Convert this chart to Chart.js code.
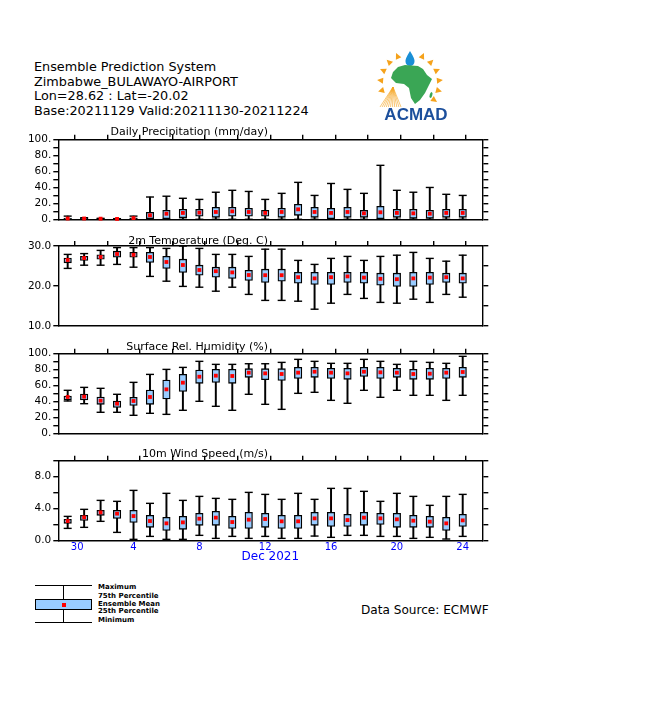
<!DOCTYPE html>
<html><head><meta charset="utf-8">
<script src="https://cdn.jsdelivr.net/npm/chart.js@4.4.1/dist/chart.umd.min.js"></script>
<style>
html,body{margin:0;padding:0;background:#fff;}
body{width:651px;height:716px;position:relative;overflow:hidden;font-family:"DejaVu Sans",sans-serif;color:#000;}
.abs{position:absolute;}
canvas.panel{position:absolute;left:0;}
.hdr{position:absolute;left:34px;top:60px;font-size:12.8px;line-height:14.5px;white-space:nowrap;}
.lgt{position:absolute;left:98px;font-size:7px;font-weight:bold;line-height:8px;white-space:nowrap;}
.ln{position:absolute;background:#000;}
</style></head>
<body>
<div class="hdr">Ensemble Prediction System<br>Zimbabwe_BULAWAYO-AIRPORT<br>Lon=28.62 : Lat=-20.02<br>Base:20211129 Valid:20211130-20211224</div>
<canvas id="logo" class="abs" style="left:365px;top:40px" width="100" height="90"></canvas>

<canvas id="c1" class="panel" style="top:120px" width="651" height="110"></canvas>
<canvas id="c2" class="panel" style="top:230px" width="651" height="106"></canvas>
<canvas id="c3" class="panel" style="top:336px" width="651" height="108"></canvas>
<canvas id="c4" class="panel" style="top:444px" width="651" height="126"></canvas>

<!-- legend -->
<div class="ln" style="left:35px;top:584.6px;width:57px;height:1.4px"></div>
<div class="ln" style="left:62.8px;top:585px;width:1.4px;height:15px"></div>
<div class="abs" style="left:35px;top:599.3px;width:57px;height:10.5px;box-sizing:border-box;border:1.4px solid #000;background:#99ccff"></div>
<div class="abs" style="left:61.5px;top:602.5px;width:4px;height:4px;background:#ff0000"></div>
<div class="ln" style="left:62.8px;top:609.5px;width:1.4px;height:13px"></div>
<div class="ln" style="left:35px;top:621.8px;width:57px;height:1.4px"></div>
<div class="lgt" style="top:583.3px">Maximum</div>
<div class="lgt" style="top:592.3px">75th Percentile</div>
<div class="lgt" style="top:599.7px">Ensemble Mean</div>
<div class="lgt" style="top:606.7px">25th Percentile</div>
<div class="lgt" style="top:616.3px">Minimum</div>
<div class="abs" style="left:361px;top:603.3px;font-size:12.1px;line-height:14px;white-space:nowrap">Data Source: ECMWF</div>

<script>
// ---------- DATA ----------
const days = [30,1,2,3,4,5,6,7,8,9,10,11,12,13,14,15,16,17,18,19,20,21,22,23,24];
const xTickDays = [30,4,8,12,16,20,24];
const monthLabel = 'Dec 2021';

const precipMax  = [4,2,1.2,0.8,4,28,29,26.4,25,34,36.4,35,25,32.6,46.4,30,45,37.6,32.6,67.8,36.4,34,40,31.4,30];
const precipQ75  = [1.5,1.5,1,0.8,1.7,8.8,11.3,12.5,12.5,15,15,13.8,11.3,13.8,18.8,15,13.8,15,11.3,16.3,12.5,12.5,11.3,12.5,12.5];
const precipQ25  = [0,0,0,0,0,0,0.8,2,3.8,2.5,3.8,3.8,3.8,2.5,5,2.5,0.8,2.5,2.5,0.8,2.5,1.2,1.2,2.5,2.5];
const precipMin  = [0,0,0,0,0,0,0,0,0,0,0,0,0,0,0,0,0,0,0,0,0,0,0,0,0];
const precipMean = [1,1,0.8,0.5,1.5,5,7,8,8.4,9.2,10,9.2,8,9.2,12.5,9.2,8,9.2,7.5,8.8,8,7.5,7,8,8];

const tempMax  = [27.9,28.1,28.9,29.6,29.6,29.6,29.4,30,29.4,27.9,27.9,27.4,29.2,29.2,26.4,25.4,26.9,27.4,26.4,27.4,27.7,28.4,26.9,26.2,27.7];
const tempQ75  = [27,27.4,27.8,28.7,28.4,28.4,27.4,26.7,25.2,24.7,24.7,23.9,24.2,24.2,23.4,23.4,23.4,23.4,23.4,23.2,23.2,23.4,23.4,23.2,23.2];
const tempQ25  = [25.8,26.4,26.7,27.2,27.2,25.9,24.4,23.4,22.7,22.2,21.9,21.4,20.9,21.2,20.7,20.4,20.4,20.9,20.7,20.2,19.9,19.9,20.4,20.9,20.7];
const tempMin  = [24.4,25.2,25.2,25.4,24.7,22.4,21.2,19.9,19.7,18.7,19.7,17.9,16.4,16.4,16.2,14.2,15.7,17.9,16.9,15.9,15.7,16.7,15.9,17.9,17.2];
const tempMean = [26.5,27,27.25,28,27.8,27.25,26,25.25,24,23.7,23.4,22.75,22.7,22.7,22.2,21.9,22.2,22.4,22.1,21.8,21.7,21.9,22.1,22.2,21.9];

const rhMax  = [54,57.7,56.5,49,64,74,80.3,82.8,90.4,86.6,86.6,87.4,87.4,89.1,92.9,90.4,87.9,87.9,92.9,90.4,86.6,90.4,89.1,87.9,96.7];
const rhQ75  = [46.9,49.4,45.6,40.6,45.2,54.4,67,74,79.5,80.3,80.3,81.2,81.2,81.2,82.8,82.8,81.6,81.6,82.8,82.8,81.6,80.3,81.6,81.6,82.8];
const rhQ25  = [41.8,41.8,36.4,32.6,35.1,36.4,43.1,52.7,62.8,64,62.8,70.3,67.4,66.5,69,70.3,69,67.8,71.5,69,70.3,67.8,67.8,69,70.3];
const rhMin  = [40.6,37.2,26.4,26.4,22.6,25.1,23.8,28.9,40.2,33.9,28.9,49,36.4,30.1,50.2,51.5,41.4,37.7,54,45.2,54,47.7,47.7,41.4,47.7];
const rhMean = [45.6,46,41,37.2,40.6,45.6,55.2,63.6,71.1,72.4,72,76.2,75.3,74.5,76.2,77.4,76.2,75.3,77.4,76.6,76.2,74.5,74.9,76.2,77];

const windMax  = [3.04,3.92,5.04,4.92,6.29,4.67,5.92,5.04,5.54,5.29,5.17,6.04,5.79,5.17,5.92,5.17,6.54,6.54,6.17,4.92,5.92,5.54,4.42,5.54,5.79];
const windQ75  = [2.67,3.17,3.79,3.79,3.79,3.17,2.92,3.04,3.42,3.67,3.04,3.54,3.42,3.17,3.17,3.54,3.54,3.29,3.54,3.42,3.42,3.17,3.04,2.92,3.29];
const windQ25  = [2.17,2.54,3.17,2.79,2.29,1.67,1.29,1.42,1.92,1.92,1.54,1.54,1.67,1.54,1.54,1.92,1.79,1.79,1.92,2.04,1.67,1.67,1.67,1.29,1.79];
const windMin  = [1.54,1.67,2.42,1.04,0.17,0.54,0.17,0.17,0.67,0.29,0.54,0.29,0.54,0.29,0.29,0.58,0.42,0.67,0.67,0.54,0.54,0.29,0.42,0.21,0.54];
const windMean = [2.46,2.92,3.54,3.38,3.08,2.46,2.17,2.29,2.75,2.88,2.33,2.63,2.71,2.42,2.42,2.79,2.79,2.58,2.88,2.79,2.67,2.5,2.38,2.17,2.54];

// ---------- LAYOUT ----------
const W = 651, AREA_L = 58.3, AREA_R = 482.3;
const X_MIN = -0.57, X_MAX = 25.19;
const BOX_FILL = '#99ccff';
const FONT = '"DejaVu Sans", sans-serif';

function makePanel(id, o) {
  const canvas = document.getElementById(id);
  const H = canvas.height;
  const topH = o.areaTop - o.top;
  const botH = (o.top + H) - o.areaBottom;
  const idx = days.map((d, i) => i);
  const s = o.series;
  const lineW = 1.4;

  const datasets = [
    { type: 'bar', order: 4, grouped: false, barThickness: 1.3,
      data: idx.map(i => ({ x: i, y: [s.min[i], s.max[i]] })),
      backgroundColor: '#000', borderWidth: 0 },
    { type: 'bar', order: 3, grouped: false, barThickness: 7.5,
      data: idx.map(i => ({ x: i, y: [s.q25[i], s.q75[i]] })),
      backgroundColor: BOX_FILL, borderColor: '#000', borderWidth: 1.3, borderSkipped: false },
    { type: 'line', order: 2, showLine: false, clip: false,
      data: idx.flatMap(i => [{ x: i, y: s.max[i] }, { x: i, y: s.min[i] }]),
      pointStyle: 'line', pointRadius: 4, pointBorderWidth: 1.4, pointBorderColor: '#000', borderColor: '#000' },
    { type: 'line', order: 1, showLine: false, clip: false,
      data: idx.map(i => ({ x: i, y: s.mean[i] })),
      pointStyle: 'rect', pointRadius: 2.7, pointBackgroundColor: '#ff0000', pointBorderWidth: 0, borderWidth: 0 }
  ];

  const xScale = {
    type: 'linear', position: 'bottom', min: X_MIN, max: X_MAX, offset: false,
    grid: { drawOnChartArea: false, drawTicks: false },
    border: { display: true, color: '#000', width: lineW },
    afterBuildTicks: sc => {
      sc.ticks = xTickDays.map((d, k) => ({ value: (k === 0 ? days.indexOf(d) + 0.58 : days.indexOf(d)) }));
    },
    afterFit: sc => { sc.height = botH; }
  };
  if (o.showX) {
    xScale.ticks = { display: true, autoSkip: false, maxRotation: 0, padding: 1, color: '#0000ff',
      font: { family: FONT, size: 10 }, callback: (v, k) => String(xTickDays[k]) };
    xScale.title = { display: true, text: monthLabel, color: '#0000ff', font: { family: FONT, size: 12 },
      padding: { top: 0, bottom: 5.5 } };
  } else {
    xScale.ticks = { display: false };
  }

  const cfg = {
    type: 'bar',
    data: { datasets },
    options: {
      responsive: false, animation: false, devicePixelRatio: 1,
      layout: { padding: 0 },
      plugins: { legend: { display: false }, tooltip: { enabled: false }, title: { display: false } },
      events: [],
      scales: {
        x: xScale,
        x2: {
          type: 'linear', position: 'top', min: X_MIN, max: X_MAX, offset: false,
          grid: { drawOnChartArea: false, drawTicks: true, tickLength: 5, color: '#000', lineWidth: lineW },
          border: { display: true, color: '#000', width: lineW },
          ticks: { display: false },
          afterBuildTicks: sc => { const a = []; for (let k = 0; k <= 13; k++) a.push({ value: X_MIN + k * (X_MAX - X_MIN) / 13 }); sc.ticks = a; },
          afterFit: sc => { sc.height = topH; }
        },
        y: {
          type: 'linear', position: 'left', min: o.min, max: o.max,
          grid: { drawOnChartArea: false, tickLength: 5, color: '#000', lineWidth: lineW },
          border: { display: true, color: '#000', width: lineW },
          ticks: { stepSize: o.leftStep, autoSkip: false, padding: 2, color: '#000',
            font: { family: FONT, size: 10.5 },
            callback: v => (Math.abs(v / o.labelEvery - Math.round(v / o.labelEvery)) < 1e-6 ? o.fmt(v) : '') },
          afterFit: sc => { sc.width = AREA_L; }
        },
        y2: {
          type: 'linear', position: 'right', min: o.min, max: o.max,
          grid: { drawOnChartArea: false, tickLength: 6, color: '#000', lineWidth: lineW },
          border: { display: true, color: '#000', width: lineW },
          ticks: { stepSize: o.rightStep, autoSkip: false, display: false },
          afterFit: sc => { sc.width = W - AREA_R; }
        }
      }
    },
    plugins: [{
      id: 'panelTitle',
      afterDraw(chart) {
        const ctx = chart.ctx;
        ctx.save();
        ctx.font = '11px ' + FONT;
        ctx.fillStyle = '#000';
        ctx.textAlign = 'right';
        ctx.textBaseline = 'middle';
        ctx.fillText(o.title, 268, o.titleY - o.top);
        ctx.restore();
      }
    }]
  };
  return new Chart(canvas, cfg);
}

const fmtInt = v => v.toFixed(0) + '.';
const fmt1 = v => v.toFixed(1);

makePanel('c1', { top: 120, areaTop: 139.7, areaBottom: 219.3, min: 0, max: 100, leftStep: 10, labelEvery: 20, rightStep: 10,
  fmt: fmtInt, title: 'Daily Precipitation (mm/day)', titleY: 131.7,
  series: { max: precipMax, q75: precipQ75, q25: precipQ25, min: precipMin, mean: precipMean } });
makePanel('c2', { top: 230, areaTop: 246, areaBottom: 326, min: 10, max: 30, leftStep: 10, labelEvery: 10, rightStep: 5,
  fmt: fmt1, title: '2m Temperature (Deg. C)', titleY: 241,
  series: { max: tempMax, q75: tempQ75, q25: tempQ25, min: tempMin, mean: tempMean } });
makePanel('c3', { top: 336, areaTop: 353.7, areaBottom: 433.3, min: 0, max: 100, leftStep: 10, labelEvery: 20, rightStep: 10,
  fmt: fmtInt, title: 'Surface Rel. Humidity (%)', titleY: 346.7,
  series: { max: rhMax, q75: rhQ75, q25: rhQ25, min: rhMin, mean: rhMean } });
makePanel('c4', { top: 444, areaTop: 460.7, areaBottom: 540.7, min: 0, max: 10, leftStep: 2, labelEvery: 4, rightStep: 2,
  fmt: fmt1, title: '10m Wind Speed (m/s)', titleY: 454, showX: true,
  series: { max: windMax, q75: windQ75, q25: windQ25, min: windMin, mean: windMean } });

// ---------- LOGO (decorative) ----------
(function () {
  const c = document.getElementById('logo').getContext('2d');
  const cx = 45, cy = 43, R = 29;
  c.fillStyle = '#f5a21b';
  [-35, -15, 5, 25, 45, 65, 115, 135, 155, 175, 195].forEach(a => {
    const t = a * Math.PI / 180;
    const px = cx + R * Math.cos(t), py = cy - R * Math.sin(t);
    const ox = Math.cos(t), oy = -Math.sin(t);
    const nx = -oy, ny = ox;
    c.beginPath();
    c.moveTo(px + ox * 4, py + oy * 4);
    c.lineTo(px - ox * 2 + nx * 3, py - oy * 2 + ny * 3);
    c.lineTo(px - ox * 2 - nx * 3, py - oy * 2 - ny * 3);
    c.closePath(); c.fill();
  });
  c.strokeStyle = '#f5a21b'; c.lineWidth = 0.6;
  for (let k = 0; k <= 10; k++) {
    c.beginPath(); c.moveTo(28, 47); c.lineTo(15 + k * 2.1, 67); c.stroke();
  }
  c.fillStyle = '#1a8fd6';
  c.beginPath(); c.moveTo(45, 11); c.quadraticCurveTo(50, 19, 49.5, 21.5);
  c.arc(45, 21.5, 4.5, 0, Math.PI); c.quadraticCurveTo(40, 19, 45, 11); c.fill();
  c.fillStyle = '#3aa655';
  c.beginPath();
  [[28,32],[33,27],[40,25],[53,26],[58,29],[62,35],[67,39],[64,45],[60,53],[55,60],[50,64],[46,58],[44,48],[39,44],[31,43],[26,38]]
    .forEach((p, k) => k ? c.lineTo(p[0], p[1]) : c.moveTo(p[0], p[1]));
  c.closePath(); c.fill();
  c.beginPath(); c.ellipse(66, 55, 1.3, 3, 0.3, 0, 2 * Math.PI); c.fill();
  c.fillStyle = '#1c4f9c';
  c.font = 'bold 17px "Liberation Sans", sans-serif';
  c.textAlign = 'center'; c.textBaseline = 'middle';
  c.fillText('ACMAD', 51, 75.5);
})();
</script>
</body></html>
